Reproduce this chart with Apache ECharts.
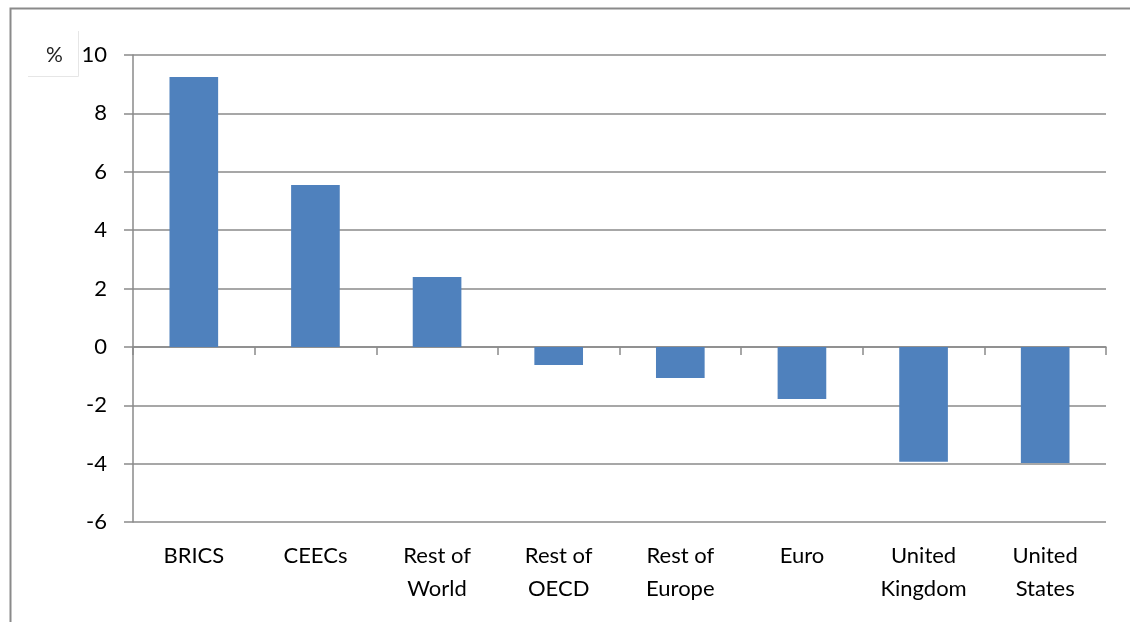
<!DOCTYPE html>
<html>
<head>
<meta charset="utf-8">
<script src="https://cdn.jsdelivr.net/npm/echarts@6/dist/echarts.min.js"></script>
<style>
html,body{margin:0;padding:0;background:#fff;}
#chart{width:1130px;height:622px;}
</style>
</head>
<body>
<div id="chart"></div>
<script>
const categories = ['BRICS', 'CEECs', 'Rest of\nWorld', 'Rest of\nOECD', 'Rest of\nEurope', 'Euro', 'United\nKingdom', 'United\nStates'];
const values = [9.25, 5.55, 2.39, -0.62, -1.07, -1.79, -3.94, -3.98];
const yTicks = { min: -6, max: 10, interval: 2 };
const unitLabel = '%';

const FONT = 'Lato, "Open Sans", sans-serif';
const GRAY = '#8a8a8a';

const chart = echarts.init(document.getElementById('chart'), null, { renderer: 'canvas' });
chart.setOption({
  animation: false,
  backgroundColor: '#fff',
  grid: { left: 133, right: 24, top: 55, bottom: 100, containLabel: false },
  xAxis: [
    {
      type: 'category',
      data: categories,
      position: 'bottom',
      axisLine: { onZero: true, lineStyle: { color: GRAY, width: 1.5 } },
      axisTick: { show: true, alignWithLabel: false, length: 8, lineStyle: { color: GRAY, width: 1.5 } },
      axisLabel: { show: false },
      splitLine: { show: false }
    },
    {
      type: 'category',
      data: categories,
      position: 'bottom',
      axisLine: { show: false, onZero: false },
      axisTick: { show: false },
      axisLabel: { show: true, color: '#000', fontFamily: FONT, fontSize: 22, lineHeight: 33, margin: 17, interval: 0 },
      splitLine: { show: false }
    }
  ],
  yAxis: {
    type: 'value',
    min: yTicks.min,
    max: yTicks.max,
    interval: yTicks.interval,
    axisLine: { show: true, lineStyle: { color: GRAY, width: 1.5 } },
    axisTick: { show: true, inside: false, length: 9, lineStyle: { color: GRAY, width: 1.5 } },
    axisLabel: { color: '#000', fontFamily: FONT, fontSize: 22, margin: 26 },
    splitLine: { show: true, lineStyle: { color: GRAY, width: 1.5 } }
  },
  series: [{
    type: 'bar',
    data: values,
    xAxisIndex: 0,
    barWidth: '40%',
    itemStyle: { color: '#4F81BD' }
  }],
  graphic: [
    { type: 'polyline', shape: { points: [[10.5, 622], [10.5, 8.5], [1130, 8.5]] }, style: { stroke: GRAY, lineWidth: 2, fill: null }, silent: true },
    { type: 'polyline', shape: { points: [[28, 76.5], [78.5, 76.5], [78.5, 31]] }, style: { stroke: '#e6e6e6', lineWidth: 1, fill: null }, silent: true },
    { type: 'text', left: 46, top: 45, style: { text: unitLabel, fontFamily: FONT, fontSize: 21, fill: '#222' }, silent: true }
  ]
});
</script>
</body>
</html>
